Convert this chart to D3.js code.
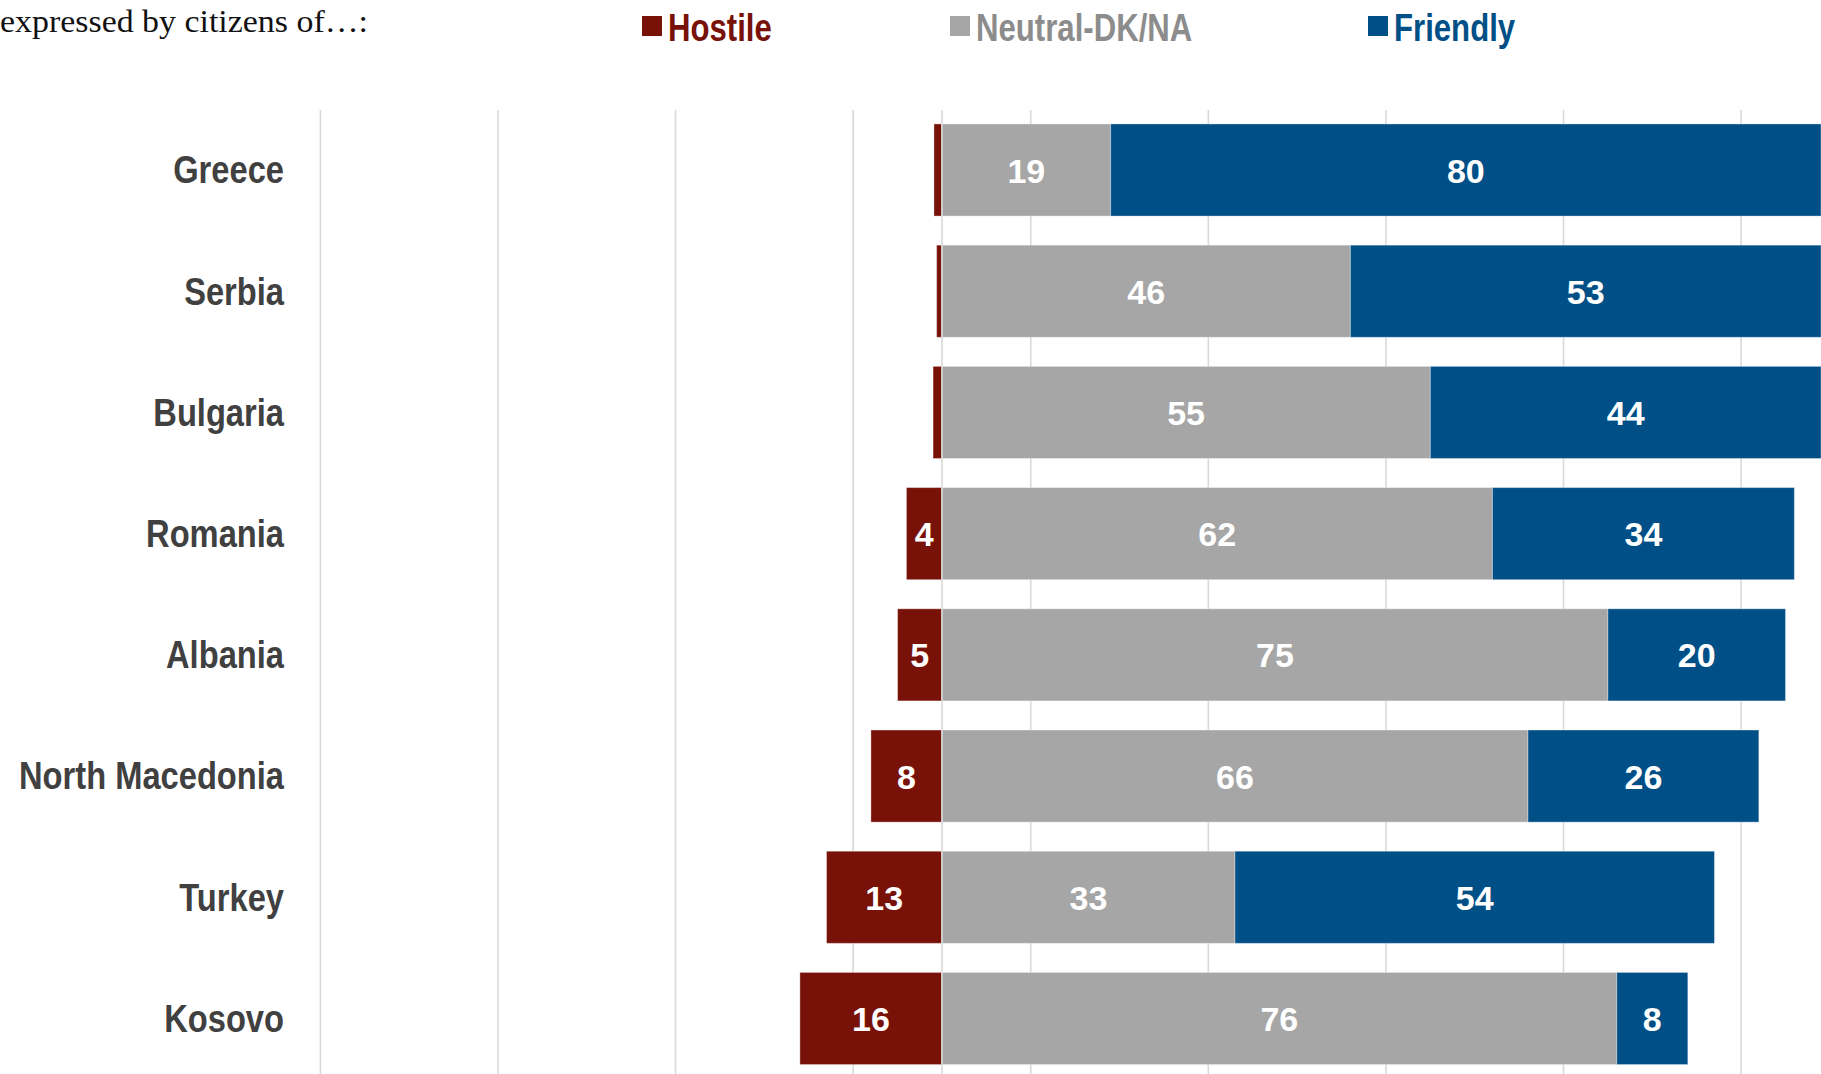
<!DOCTYPE html>
<html>
<head>
<meta charset="utf-8">
<script src="https://cdn.jsdelivr.net/npm/d3@7"></script>
<style>
  html, body { margin: 0; padding: 0; background: #fff; overflow: hidden; }
  svg { display: block; }
</style>
</head>
<body>
<script>
const countries = ["Greece", "Serbia", "Bulgaria", "Romania", "Albania", "North Macedonia", "Turkey", "Kosovo"];
const hostile  = [0.9, 0.6, 1, 4, 5, 8, 13, 16];
const neutral  = [19, 46, 55, 62, 75, 66, 33, 76];
const friendly = [80, 53, 44, 34, 20, 26, 54, 8];
const seriesNames = ["Hostile", "Neutral-DK/NA", "Friendly"];
const gridValues = [-70, -50, -30, -10, 0, 10, 30, 50, 70, 90];
const titleText = "expressed by citizens of\u2026:";

const W = 1821, H = 1074;
const colors = { Hostile: "#781208", "Neutral-DK/NA": "#A6A6A6", Friendly: "#004F87" };
const legendText = { Hostile: "#781208", "Neutral-DK/NA": "#8C8C8C", Friendly: "#004F87" };
const NARROW_LEGEND = 0.82;
const NARROW_LABEL = 0.86;

const svg = d3.select("body").append("svg").attr("width", W).attr("height", H);

const x = d3.scaleLinear().domain([-70, 99]).range([320.4, 1821]);
const y = d3.scaleBand().domain(countries).range([109.4, 1079.1]).paddingInner(0.24).paddingOuter(0.12);

// gridlines
svg.append("g").selectAll("line").data(gridValues.filter(v => v !== 0)).join("line")
  .attr("x1", d => x(d)).attr("x2", d => x(d))
  .attr("y1", 110).attr("y2", H)
  .attr("stroke", "#D9D9D9").attr("stroke-width", 1.6);

const rows = countries.map((c, i) => ({ c, h: hostile[i], n: neutral[i], f: friendly[i] }));

const segs = [];
rows.forEach(r => {
  segs.push({ c: r.c, s: "Hostile", x0: -r.h, x1: 0, v: r.h });
  segs.push({ c: r.c, s: "Neutral-DK/NA", x0: 0, x1: r.n, v: r.n });
  segs.push({ c: r.c, s: "Friendly", x0: r.n, x1: r.n + r.f, v: r.f });
});

svg.append("g").selectAll("rect").data(segs).join("rect")
  .attr("x", d => x(d.x0)).attr("width", d => x(d.x1) - x(d.x0))
  .attr("y", d => y(d.c)).attr("height", y.bandwidth())
  .attr("fill", d => colors[d.s])
  .attr("stroke", "rgba(255,255,255,0.35)").attr("stroke-width", 1);

// zero line over bars
svg.append("line")
  .attr("x1", x(0)).attr("x2", x(0)).attr("y1", 110).attr("y2", H)
  .attr("stroke", "#D9D9D9").attr("stroke-width", 1.6);

// data labels
svg.append("g").selectAll("text").data(segs.filter(d => d.v >= 2)).join("text")
  .attr("x", d => x((d.x0 + d.x1) / 2))
  .attr("y", d => y(d.c) + y.bandwidth() / 2)
  .attr("dy", "0.37em")
  .attr("text-anchor", "middle")
  .attr("fill", "#fff")
  .attr("font-family", "'Liberation Sans', Arial, sans-serif")
  .attr("font-weight", "bold")
  .attr("font-size", 34)
  .text(d => Math.round(d.v));

// country labels (condensed)
svg.append("g").selectAll("g").data(countries).join("g")
  .attr("transform", d => `translate(284,${y(d) + y.bandwidth() / 2}) scale(${NARROW_LABEL},1)`)
  .append("text")
  .attr("dy", "0.35em")
  .attr("text-anchor", "end")
  .attr("fill", "#404040")
  .attr("font-family", "'Liberation Sans', Arial, sans-serif")
  .attr("font-weight", "bold")
  .attr("font-size", 38)
  .text(d => d);

// title
svg.append("text")
  .attr("x", 0).attr("y", 32)
  .attr("textLength", 368).attr("lengthAdjust", "spacingAndGlyphs")
  .attr("fill", "#111")
  .attr("font-family", "'Liberation Serif', 'DejaVu Serif', serif")
  .attr("font-size", 31)
  .text(titleText);

// legend
const legendX = { Hostile: 642, "Neutral-DK/NA": 950, Friendly: 1368 };
const lg = svg.append("g").selectAll("g").data(seriesNames).join("g")
  .attr("transform", d => `translate(${legendX[d]},0)`);
lg.append("rect").attr("x", 0).attr("y", 16).attr("width", 20).attr("height", 20)
  .attr("fill", d => colors[d]);
lg.append("g").attr("transform", `translate(26,41) scale(${NARROW_LEGEND},1)`)
  .append("text")
  .attr("fill", d => legendText[d])
  .attr("font-family", "'Liberation Sans', Arial, sans-serif")
  .attr("font-weight", "bold")
  .attr("font-size", 38)
  .text(d => d);
</script>
</body>
</html>
